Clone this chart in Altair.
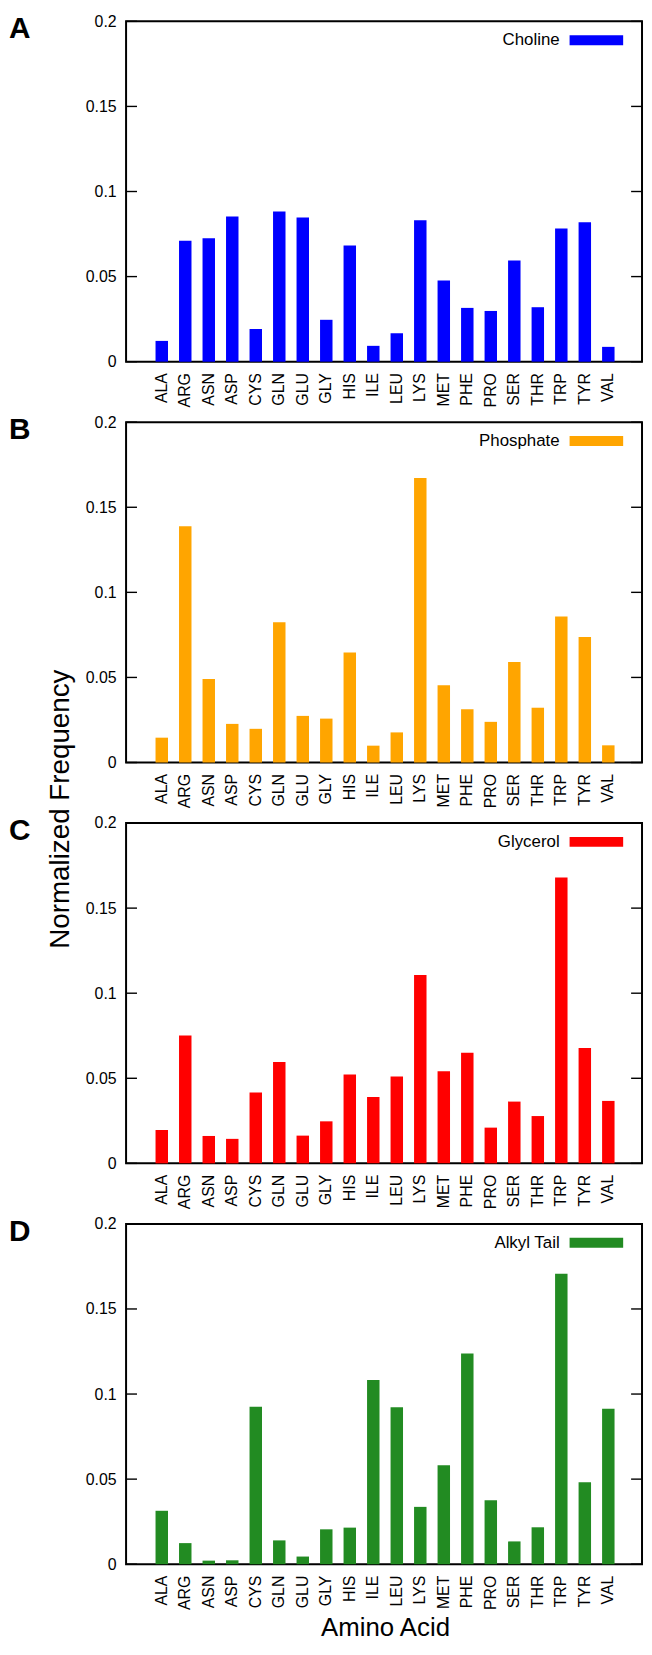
import altair as alt
import pandas as pd

amino_acids = ["ALA", "ARG", "ASN", "ASP", "CYS", "GLN", "GLU", "GLY", "HIS", "ILE",
               "LEU", "LYS", "MET", "PHE", "PRO", "SER", "THR", "TRP", "TYR", "VAL"]

choline = [0.0122, 0.0711, 0.0725, 0.0853, 0.0192, 0.0882, 0.0847, 0.0246, 0.0682, 0.0093,
           0.0167, 0.0831, 0.0477, 0.0316, 0.0298, 0.0595, 0.0320, 0.0783, 0.0820, 0.0087]
phosphate = [0.0146, 0.1388, 0.0491, 0.0227, 0.0198, 0.0825, 0.0274, 0.0258, 0.0647, 0.0099,
             0.0177, 0.1672, 0.0454, 0.0313, 0.0239, 0.0590, 0.0322, 0.0858, 0.0738, 0.0101]
glycerol = [0.0196, 0.0751, 0.0161, 0.0144, 0.0416, 0.0596, 0.0163, 0.0247, 0.0522, 0.0390,
            0.0511, 0.1107, 0.0542, 0.0650, 0.0210, 0.0363, 0.0278, 0.1680, 0.0678, 0.0367]
alkyl_tail = [0.0314, 0.0124, 0.0021, 0.0023, 0.0926, 0.0140, 0.0045, 0.0205, 0.0215, 0.1083,
              0.0922, 0.0337, 0.0581, 0.1238, 0.0376, 0.0134, 0.0217, 0.1707, 0.0481, 0.0913]

series_names = ["Choline", "Phosphate", "Glycerol", "Alkyl Tail"]
panel_letters = ["A", "B", "C", "D"]
colors = ["#0000ff", "#ffa500", "#ff0000", "#228b22"]
y_ticks = [0, 0.05, 0.1, 0.15, 0.2]
x_title = "Amino Acid"
y_title = "Normalized Frequency"

W, H = 520, 343
FONT = "Liberation Sans"
TICK = 11


def panel(idx, values):
    df = pd.DataFrame({"aa": amino_acids, "v": values})
    last = idx == 3
    x_axis_kw = dict(labelAngle=270, ticks=False, domain=False, grid=False,
                     labelFontSize=16, labelPadding=11, labelColor="black",
                     labelFont=FONT)
    if last:
        x_axis_kw.update(title=x_title, titleFontSize=26, titleFontWeight="normal",
                         titlePadding=5, titleColor="black", titleFont=FONT)
    else:
        x_axis_kw.update(title="")
    yscale = alt.Scale(domain=[0, 0.2], nice=False, zero=True)
    y_axis = alt.Axis(values=y_ticks, format="~g", ticks=False, domain=False,
                      grid=False, labelFontSize=16, labelPadding=10,
                      labelColor="black", labelFont=FONT, title="")
    bars = alt.Chart(df).mark_bar(color=colors[idx]).encode(
        x=alt.X("aa:N", sort=amino_acids,
                scale=alt.Scale(paddingInner=0.47, paddingOuter=1, range=[6, 516]),
                axis=alt.Axis(**x_axis_kw)),
        y=alt.Y("v:Q", scale=yscale, axis=y_axis),
    )
    tick_df = pd.DataFrame({"v": y_ticks})
    left_ticks = alt.Chart(tick_df).mark_rule(color="black", strokeWidth=1.4).encode(
        y=alt.Y("v:Q", scale=yscale, axis=y_axis),
        x=alt.value(0), x2=alt.value(TICK))
    right_ticks = alt.Chart(tick_df).mark_rule(color="black", strokeWidth=1.4).encode(
        y=alt.Y("v:Q", scale=yscale, axis=y_axis),
        x=alt.value(W - TICK), x2=alt.value(W))
    leg_df = pd.DataFrame({"name": [series_names[idx]]})
    leg_text = alt.Chart(leg_df).mark_text(
        align="right", baseline="middle", fontSize=17, font=FONT, color="black"
    ).encode(text="name:N", x=alt.value(437), y=alt.value(19))
    leg_rect = alt.Chart(leg_df).mark_rect(color=colors[idx]).encode(
        x=alt.value(447), x2=alt.value(501), y=alt.value(14), y2=alt.value(24))
    let_df = pd.DataFrame({"letter": [panel_letters[idx]]})
    letter = alt.Chart(let_df).mark_text(
        align="left", baseline="middle", fontSize=30, fontWeight="bold", font=FONT,
        color="black"
    ).encode(text="letter:N", x=alt.value(-118), y=alt.value(8))
    layers = [bars, left_ticks, right_ticks, leg_rect, leg_text, letter]
    if idx == 1:
        yt_df = pd.DataFrame({"t": [y_title]})
        ytitle = alt.Chart(yt_df).mark_text(
            angle=270, align="center", baseline="middle", fontSize=28, font=FONT,
            color="black"
        ).encode(text="t:N", x=alt.value(-66), y=alt.value(390))
        layers.append(ytitle)
    return alt.layer(*layers).properties(width=W, height=H)


series = [choline, phosphate, glycerol, alkyl_tail]
chart = alt.vconcat(*[panel(i, s) for i, s in enumerate(series)],
                    spacing=61, bounds="flush").properties(
    padding={"left": 0, "top": -2, "right": 0, "bottom": 0}
).configure(
    font=FONT, background="white"
).configure_view(stroke="black", strokeWidth=2)

chart.save("out.html", embed_options={"renderer": "svg", "actions": False})
